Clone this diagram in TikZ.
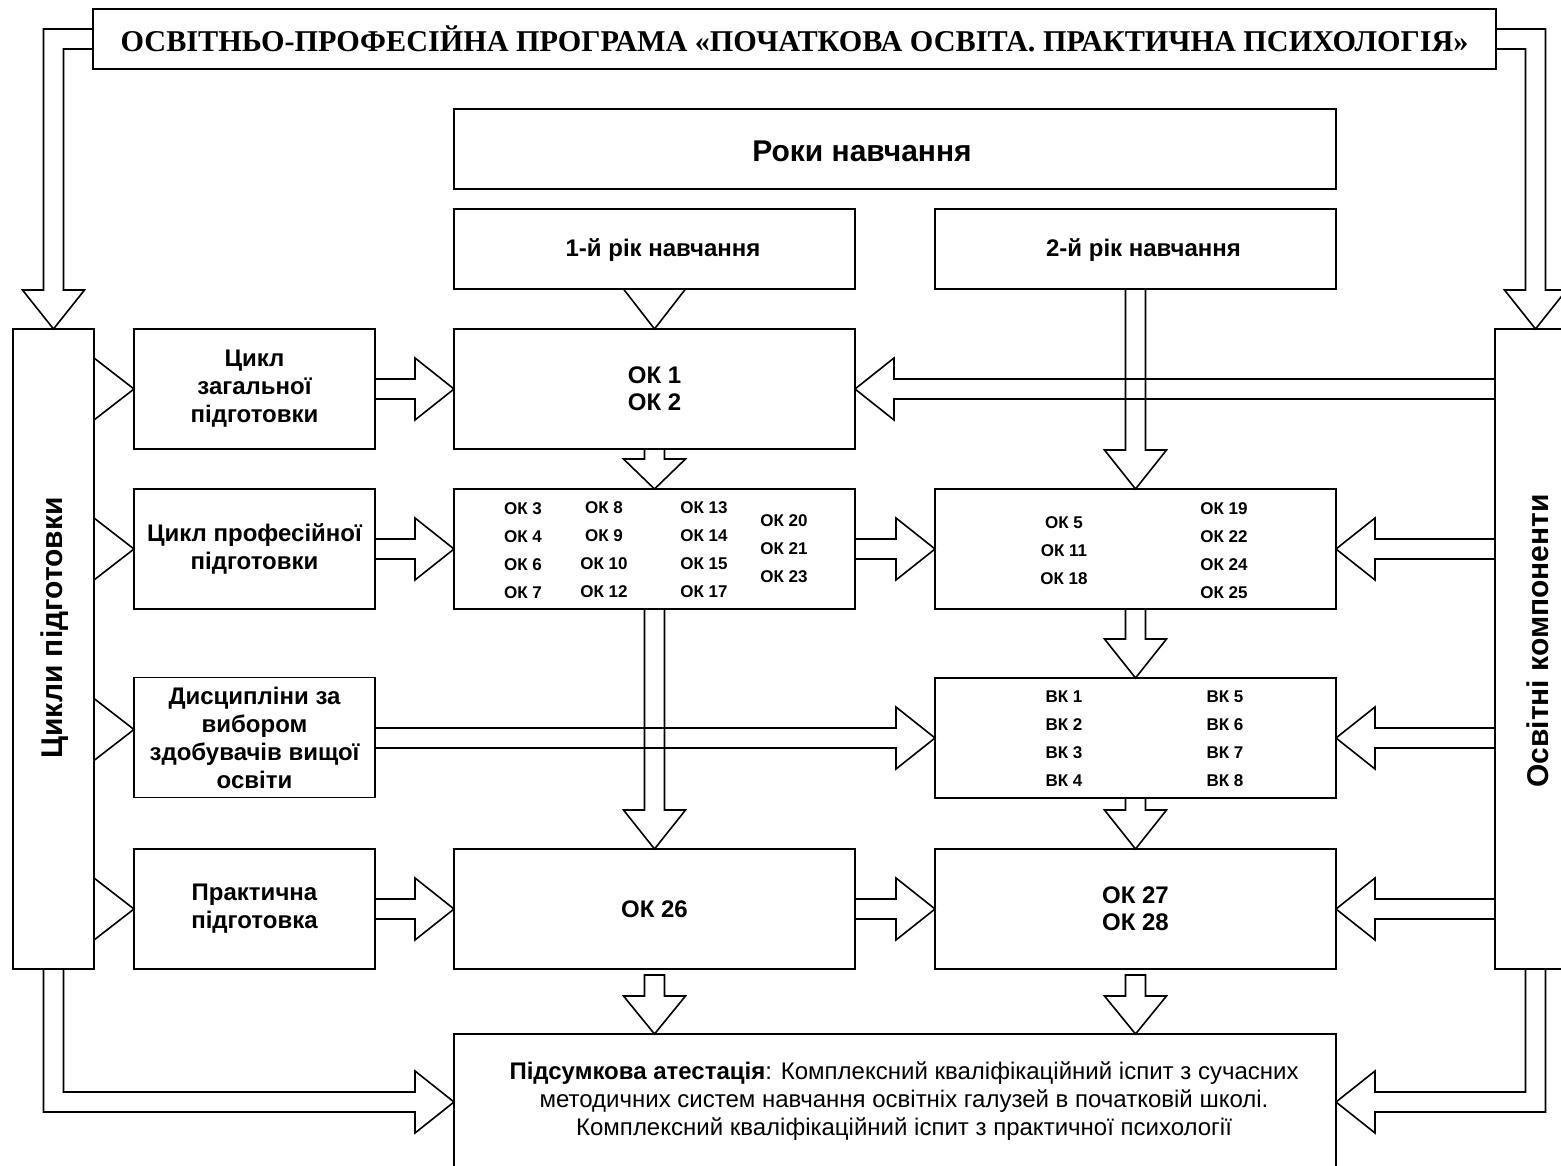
\documentclass[tikz,border=0pt]{standalone}
\usepackage{fontspec}
\setmainfont{Liberation Sans}
\newfontfamily\titlefont{Liberation Serif}
\usetikzlibrary{calc}
\tikzset{
  box/.style={draw, line width=1.6pt, inner sep=0pt, outer sep=0pt, align=center},
  blk/.style={draw, line width=1.6pt, line join=miter},
  txt/.style={inner sep=0pt, outer sep=0pt, align=center},
  fbig/.style={font={\fontsize{24}{27}\selectfont\bfseries}},
  fsmall/.style={font={\fontsize{17}{28}\selectfont\bfseries}},
  fside/.style={font={\fontsize{24}{28}\selectfont\bfseries}},
  frot/.style={font={\fontsize{30}{34}\selectfont\bfseries}},
  fyear/.style={font={\fontsize{24}{29}\selectfont\bfseries}},
}
% block arrows: start, tip
\newcommand\arrR[3][39]{\draw[blk] let \p1=(#2), \p2=(#3) in (\x1,\y2+10pt) -- (\x2-#1pt,\y2+10pt) -- (\x2-#1pt,\y2+31pt) -- (\p2) -- (\x2-#1pt,\y2-31pt) -- (\x2-#1pt,\y2-10pt) -- (\x1,\y2-10pt) -- cycle;}
\newcommand\arrL[3][39]{\draw[blk] let \p1=(#2), \p2=(#3) in (\x1,\y2+10pt) -- (\x2+#1pt,\y2+10pt) -- (\x2+#1pt,\y2+31pt) -- (\p2) -- (\x2+#1pt,\y2-31pt) -- (\x2+#1pt,\y2-10pt) -- (\x1,\y2-10pt) -- cycle;}
\newcommand\arrD[3][39]{\draw[blk] let \p1=(#2), \p2=(#3) in (\x2-10pt,\y1) -- (\x2-10pt,\y2+#1pt) -- (\x2-31pt,\y2+#1pt) -- (\p2) -- (\x2+31pt,\y2+#1pt) -- (\x2+10pt,\y2+#1pt) -- (\x2+10pt,\y1) -- cycle;}
\newcommand\triR[2]{\draw[blk] let \p1=(#1), \p2=(#2) in (\x1,\y2+31pt) -- (\p2) -- (\x1,\y2-31pt) -- cycle;}
\newcommand\triD[2]{\draw[blk] let \p1=(#1), \p2=(#2) in (\x2-31pt,\y1) -- (\p2) -- (\x2+31pt,\y1) -- cycle;}

\begin{document}
\begin{tikzpicture}[x=1pt,y=-1pt]
\fill[white] (0,0) rectangle (1561,1166);
\useasboundingbox (0,0) rectangle (1561,1166);

% title
\node[box, minimum width=1403pt, minimum height=60pt, font={\titlefont\fontsize{30.2}{34}\selectfont\bfseries}] (title) at (794.5,39) {ОСВІТНЬО-ПРОФЕСІЙНА ПРОГРАМА «ПОЧАТКОВА ОСВІТА. ПРАКТИЧНА ПСИХОЛОГІЯ»};

% years
\node[box, minimum width=882pt, minimum height=80pt] (roki) at (895,149) {};
\node[txt, font={\fontsize{30}{34}\selectfont\bfseries}] (rokitxt) at (862,151) {Роки навчання};
\node[box, minimum width=401pt, minimum height=80pt] (y1) at (654.5,249) {};
\node[txt, fyear] (y1txt) at (663,250) {1-й рік навчання};
\node[box, minimum width=401pt, minimum height=80pt] (y2) at (1135.5,249) {};
\node[txt, fyear] (y2txt) at (1143.5,250) {2-й рік навчання};

% side tall boxes
\node[box, minimum width=81pt, minimum height=640pt] (cycles) at (53.5,649) {};
\node[txt, frot, rotate=90] (cyctxt) at (55,628) {Цикли підготовки};
\node[box, minimum width=81pt, minimum height=640pt] (comps) at (1535.5,649) {};
\node[txt, frot, rotate=90] (comptxt) at (1538,641) {Освітні компоненти};

% cycle boxes
\node[box, fside, minimum width=241pt, minimum height=120pt] (c1) at (254.5,389) {Цикл\\загальної\\підготовки};
\node[box, fside, minimum width=241pt, minimum height=120pt] (c2) at (254.5,549) {Цикл професійної\\підготовки};
\node[box, fside, minimum width=241pt, minimum height=120pt] (c3) at (254.5,737.5) {Дисципліни за\\вибором\\здобувачів вищої\\освіти};
\node[box, fside, minimum width=241pt, minimum height=120pt] (c4) at (254.5,909) {Практична\\підготовка};

% component boxes
\node[box, fbig, minimum width=401pt, minimum height=120pt] (ok1) at (654.5,389) {ОК 1\\ОК 2};
\node[box, minimum width=401pt, minimum height=120pt] (ok3) at (654.5,549) {};
\node[box, fbig, minimum width=401pt, minimum height=120pt] (ok26) at (654.5,909) {ОК 26};
\node[box, minimum width=401pt, minimum height=120pt] (ok5) at (1135.5,549) {};
\node[box, minimum width=401pt, minimum height=120pt] (bk) at (1135.5,738) {};
\node[box, fbig, minimum width=401pt, minimum height=120pt] (ok27) at (1135.5,909) {ОК 27\\ОК 28};

\node[txt, fsmall] (ok3a) at (523,551) {ОК 3\\ОК 4\\ОК 6\\ОК 7};
\node[txt, fsmall] (ok3b) at (604,549.5) {ОК 8\\ОК 9\\ОК 10\\ОК 12};
\node[txt, fsmall] (ok3c) at (704,550) {ОК 13\\ОК 14\\ОК 15\\ОК 17};
\node[txt, fsmall] (ok3d) at (784,549) {ОК 20\\ОК 21\\ОК 23};
\node[txt, fsmall] (ok5a) at (1064,551) {ОК 5\\ОК 11\\ОК 18};
\node[txt, fsmall] (ok5b) at (1224,551) {ОК 19\\ОК 22\\ОК 24\\ОК 25};
\node[txt, fsmall] (bka) at (1064,739) {ВК 1\\ВК 2\\ВК 3\\ВК 4};
\node[txt, fsmall] (bkb) at (1225,739) {ВК 5\\ВК 6\\ВК 7\\ВК 8};

% final box
\node[box, minimum width=882pt, minimum height=136pt] (final) at (895,1102) {};
\node[txt, font={\fontsize{24}{28}\selectfont}] (finaltxt) at (904,1101) {{\bfseries Підсумкова атестація}: Комплексний кваліфікаційний іспит з сучасних\\методичних систем навчання освітніх галузей в початковій школі.\\Комплексний кваліфікаційний іспит з практичної психології};

% elbow arrows from title
\draw[blk] ([yshift=10pt]title.west) -- (43.5,29) -- (43.5,290) -- (22.5,290) -- (cycles.north) -- (84.5,290) -- (63.5,290) -- (63.5,49) -- ([yshift=-10pt]title.west);
\draw[blk] ([yshift=10pt]title.east) -- (1545.5,29) -- (1545.5,290) -- (1566.5,290) -- (comps.north) -- (1504.5,290) -- (1525.5,290) -- (1525.5,49) -- ([yshift=-10pt]title.east);

% elbow arrows to final
\draw[blk] ([xshift=-10pt]cycles.south) -- (43.5,1112) -- (415,1112) -- (415,1133) -- (final.west) -- (415,1071) -- (415,1092) -- (63.5,1092) -- ([xshift=10pt]cycles.south);
\draw[blk] ([xshift=10pt]comps.south) -- (1545.5,1112) -- (1375,1112) -- (1375,1133) -- (final.east) -- (1375,1071) -- (1375,1092) -- (1525.5,1092) -- ([xshift=-10pt]comps.south);

% triangles from cycles box
\triR{cycles.east}{c1.west}
\triR{cycles.east}{c2.west}
\triR{cycles.east}{[yshift=8pt]c3.west}
\triR{cycles.east}{c4.west}

% cycle boxes to components
\arrR{c1.east}{ok1.west}
\arrR{c2.east}{ok3.west}
\arrR{c3.east}{bk.west}
\arrR{c4.east}{ok26.west}
\arrR{ok3.east}{ok5.west}
\arrR{ok26.east}{ok27.west}

% from components box
\arrL{comps.west}{ok1.east}
\arrL{comps.west}{ok5.east}
\arrL{comps.west}{bk.east}
\arrL{comps.west}{ok27.east}

% vertical
\triD{y1.south}{ok1.north}
\arrD{y2.south}{ok5.north}
\arrD[30]{ok1.south}{ok3.north}
\arrD{ok3.south}{ok26.north}
\arrD{ok5.south}{bk.north}
\arrD{bk.south}{ok27.north}
\arrD[38]{[yshift=-6pt]ok26.south}{ok26.south |- final.north}
\arrD[38]{[yshift=-6pt]ok27.south}{ok27.south |- final.north}
\end{tikzpicture}
\end{document}
